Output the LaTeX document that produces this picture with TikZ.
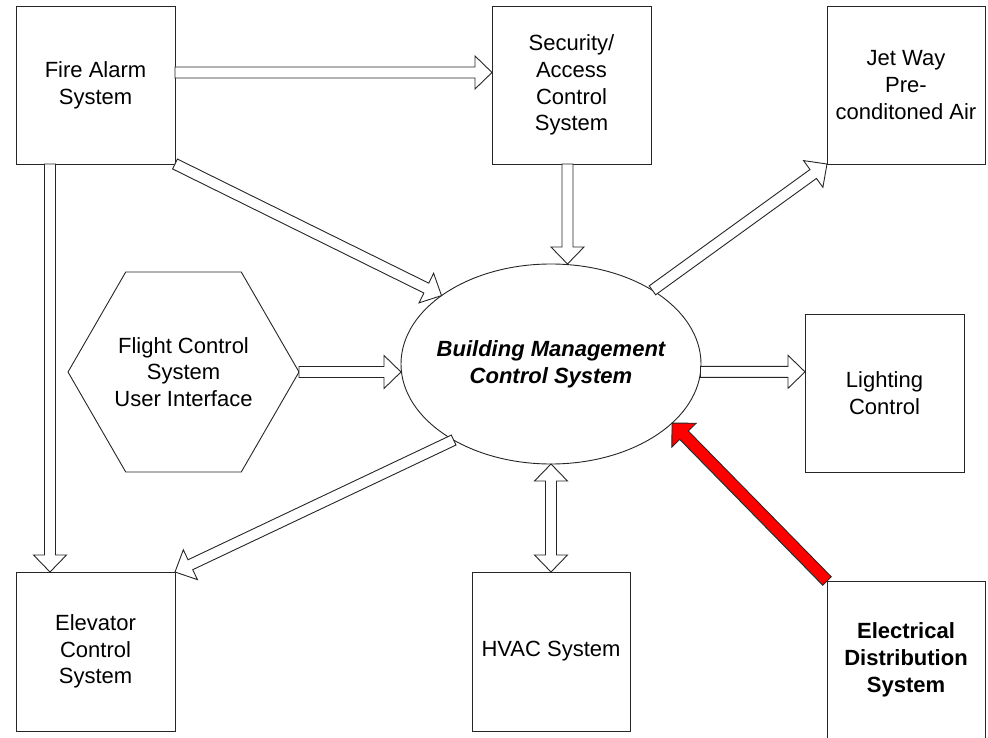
\documentclass[tikz,border=0pt]{standalone}
\usepackage{fontspec}
\setmainfont{Liberation Sans}
\usetikzlibrary{calc,shapes.geometric}
\newcommand\blockarrow[6][blockarr]{%
  \draw[#1] let \p1=(#2), \p2=(#3), \n1={atan2(\y2-\y1,\x2-\x1)}, \n2={veclen(\x2-\x1,\y2-\y1)} in
  [shift={(\p1)}, rotate=\n1] (0,-#4) -- ({\n2-#6},-#4) -- ({\n2-#6},-#5) -- (\n2,0) -- ({\n2-#6},#5) -- ({\n2-#6},#4) -- (0,#4) -- cycle;}
\newcommand\dblockarrow[6][blockarr]{%
  \draw[#1] let \p1=(#2), \p2=(#3), \n1={atan2(\y2-\y1,\x2-\x1)}, \n2={veclen(\x2-\x1,\y2-\y1)} in
  [shift={(\p1)}, rotate=\n1] (#6,-#4) -- ({\n2-#6},-#4) -- ({\n2-#6},-#5) -- (\n2,0) -- ({\n2-#6},#5) -- ({\n2-#6},#4) -- (#6,#4) -- (#6,#5) -- (0,0) -- (#6,-#5) -- cycle;}
\tikzset{
  txt/.style={font=\fontsize{22}{26.7}\selectfont, align=center, inner sep=0pt},
  box/.style={txt, draw=black!85, line width=0.9pt, minimum width=159pt, minimum height=158pt, outer sep=0pt},
  blockarr/.style={draw=black!85, line width=0.9pt, fill=white, line join=miter},
  redarr/.style={draw=black!85, line width=0.9pt, fill=red, line join=miter},
}
\begin{document}
\begin{tikzpicture}[x=1pt,y=1pt]
\useasboundingbox (0,0) rectangle (988,737);
\fill[white] (0,0) rectangle (988,737);
% boxes
\node[box] (fire) at (95.5,652) {Fire Alarm\\System};
\node[box] (sec) at (571.5,652) {Security/\\Access\\Control\\System};
\node[box, minimum width=158pt] (jet) at (906,652) {Jet Way\\Pre-\\conditoned Air};
\node[box] (light) at (884.5,344) {Lighting\\Control};
\node[box, minimum width=158pt, font=\fontsize{22}{26.7}\selectfont\bfseries] (elec) at (906,77) {Electrical\\Distribution\\System};
\node[box, minimum width=158pt, minimum height=159pt] (hvac) at (551,85.5) {HVAC System};
\node[box, minimum height=159pt] (elev) at (95.5,85.5) {Elevator\\Control\\System};
% hexagon
\node[draw=black!85, line width=0.9pt, regular polygon, regular polygon sides=6, minimum size=231pt, inner sep=0pt, outer sep=0pt] (hex) at (183.5,365) {};
\node[txt] (hextext) at (hex.center) {Flight Control\\System\\User Interface};
% ellipse
\node[draw=black!85, line width=0.9pt, ellipse, minimum width=300pt, minimum height=200pt, inner sep=0pt, outer sep=0pt] (bms) at (551,373) {};
\node[txt, font=\fontsize{22}{26.7}\selectfont\bfseries\itshape] (bmstext) at (bms.center) {Building Management\\Control System};
% anchor points
\coordinate (fs) at ($(fire.east)+(0,12.5)$);
\coordinate (fe) at ($(fire.south west)+(34,0)$);
\coordinate (sb) at ($(sec.south)+(-4,0)$);
% arrows
\blockarrow{fs}{fs -| sec.west}{5.5}{16.5}{17}
\blockarrow{fe}{fe |- elev.north}{5.5}{16.5}{17}
\blockarrow{fire.south east}{bms.148}{5.5}{16.5}{17}
\blockarrow{sb}{sb |- bms.north}{5.5}{16.5}{17}
\blockarrow{bms.36}{jet.south west}{5.5}{16.5}{17}
\blockarrow{hex.east}{hex.east -| bms.west}{5.5}{16.5}{17}
\blockarrow{bms.357}{bms.357 -| light.west}{5.5}{16.5}{17}
\blockarrow{bms.218}{elev.north east}{5.5}{16.5}{17}
\dblockarrow{bms.south}{hvac.north}{5.5}{16.5}{17}
\blockarrow[redarr]{elec.north west}{bms.334}{6}{17}{17}
\end{tikzpicture}
\end{document}
